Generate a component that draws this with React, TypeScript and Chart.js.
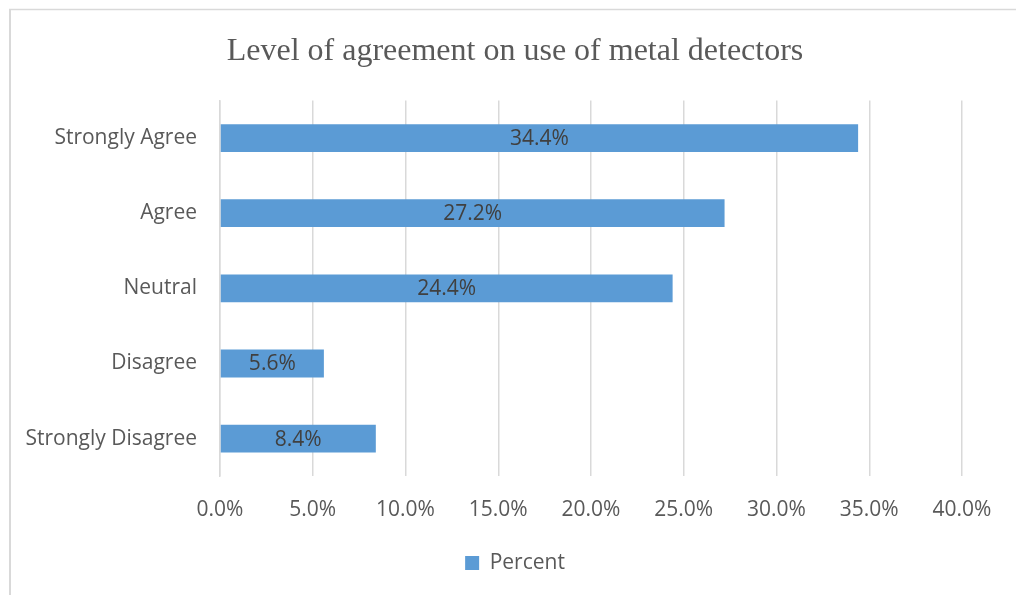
import React, { useEffect, useRef } from "react";
import { Chart, registerables } from "chart.js";

Chart.register(...registerables);

const categories = ["Strongly Agree", "Agree", "Neutral", "Disagree", "Strongly Disagree"];
const percentValues = [34.4, 27.2, 24.4, 5.6, 8.4];
const seriesLabel = "Percent";
const chartTitle = "Level of agreement on use of metal detectors";
const xMin = 0;
const xMax = 40;
const xStep = 5;

const FONT = "'Open Sans', 'Noto Sans', sans-serif";
const FONT_SIZE = 21;

const barLabelPlugin = {
  id: "barLabels",
  afterDatasetsDraw(chart: any) {
    const ctx = chart.ctx;
    const meta = chart.getDatasetMeta(0);
    ctx.save();
    ctx.font = `${FONT_SIZE}px ${FONT}`;
    ctx.fillStyle = "#404040";
    ctx.textAlign = "center";
    ctx.textBaseline = "middle";
    meta.data.forEach((bar: any, i: number) => {
      const cx = (bar.x + bar.base) / 2;
      ctx.fillText(percentValues[i].toFixed(1) + "%", cx, bar.y + 1);
    });
    ctx.restore();
  },
};

const framePlugin = {
  id: "frame",
  beforeDraw(chart: any) {
    const ctx = chart.ctx;
    ctx.save();
    ctx.fillStyle = "#ffffff";
    ctx.fillRect(0, 0, chart.width, chart.height);
    ctx.strokeStyle = "#d9d9d9";
    ctx.lineWidth = 2;
    ctx.beginPath();
    ctx.moveTo(10, chart.height);
    ctx.lineTo(10, 9.5);
    ctx.stroke();
    ctx.lineWidth = 1.5;
    ctx.beginPath();
    ctx.moveTo(9, 9.5);
    ctx.lineTo(chart.width, 9.5);
    ctx.stroke();
    ctx.restore();
  },
};

export default function App() {
  const ref = useRef<HTMLCanvasElement | null>(null);
  useEffect(() => {
    if (!ref.current) return;
    const chart = new Chart(ref.current, {
      type: "bar",
      data: {
        labels: categories,
        datasets: [
          {
            label: seriesLabel,
            data: percentValues,
            backgroundColor: "#5B9BD5",
            borderWidth: 0,
            categoryPercentage: 1,
            barPercentage: 0.37,
          },
        ],
      },
      options: {
        indexAxis: "y",
        animation: false,
        responsive: false,
        maintainAspectRatio: false,
        layout: { padding: { left: 0, right: -14, top: 0, bottom: 11.4 } },
        scales: {
          x: {
            min: xMin,
            max: xMax,
            ticks: {
              stepSize: xStep,
              padding: 21,
              color: "#595959",
              font: { family: FONT, size: FONT_SIZE },
              callback: (v: any) => Number(v).toFixed(1) + "%",
            },
            grid: { color: "#d9d9d9", lineWidth: 1.5, drawTicks: false },
            border: { display: false },
            afterFit: (s: any) => {
              s.height = 66.4;
            },
          },
          y: {
            ticks: {
              padding: 23,
              color: "#595959",
              font: { family: FONT, size: FONT_SIZE },
            },
            grid: { display: false, drawTicks: false },
            border: { display: true, color: "#d9d9d9", width: 1.5 },
            afterFit: (s: any) => {
              s.width = 220;
            },
          },
          yRight: {
            type: "category",
            position: "right",
            labels: categories,
            ticks: { display: false },
            grid: { display: false, drawTicks: false },
            border: { display: false },
            afterFit: (s: any) => {
              s.width = 68;
            },
          },
        },
        plugins: {
          title: {
            display: true,
            text: chartTitle,
            color: "#595959",
            font: { family: "'Liberation Serif', serif", size: 32, weight: "normal" },
            padding: { top: 32.8, bottom: 29.3 },
          },
          legend: {
            position: "bottom",
            labels: {
              color: "#595959",
              font: { family: FONT, size: FONT_SIZE },
              boxWidth: 14,
              boxHeight: 14,
              padding: 10,
            },
          },
          tooltip: { enabled: false },
        },
      },
      plugins: [framePlugin, barLabelPlugin],
    });
    return () => chart.destroy();
  }, []);
  return (
    <div style={{ position: "fixed", left: 0, top: 0, width: 1016, height: 595 }}>
      <canvas ref={ref} width={1016} height={595} style={{ width: 1016, height: 595, display: "block" }} />
    </div>
  );
}
